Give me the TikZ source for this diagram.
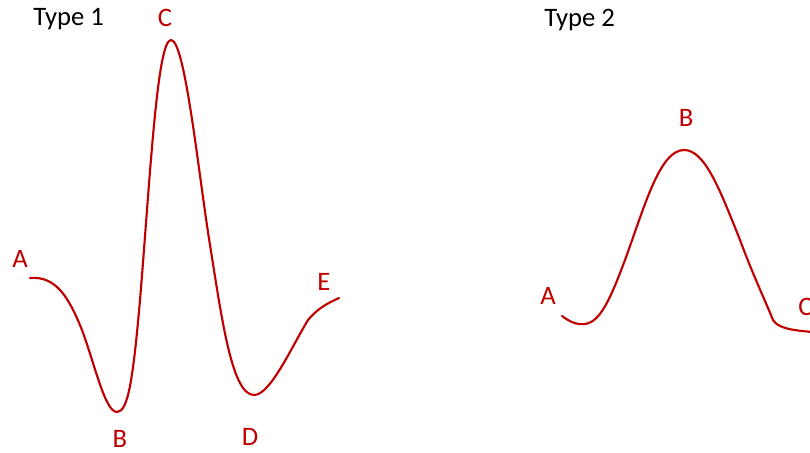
\documentclass[tikz,border=0pt]{standalone}
\usepackage{fontspec}
\setmainfont{Carlito}
\definecolor{wred}{HTML}{C00000}
\begin{document}
\begin{tikzpicture}[x=0.75pt,y=-0.75pt,
  wave/.style={draw=wred,line width=1.6pt,line cap=round,line join=round},
  title/.style={font=\fontsize{20}{24}\selectfont,text=black,inner sep=0pt,anchor=base west},
  lbl/.style={font=\fontsize{20}{24}\selectfont,text=wred,inner sep=0pt,anchor=base}]
\useasboundingbox (0,0) rectangle (810,453);
\clip (0,0) rectangle (810,453);
% Type 1
\node[title] (t1) at (33,26) {Type 1};
\path[wave] (30,278) .. controls (55,276) and (68,295) .. (82,330)
  .. controls (95,365) and (105,412) .. (117,412)
  .. controls (128,412) and (133,380) .. (140,300)
  .. controls (150,180) and (157,40) .. (171,40)
  .. controls (185,40) and (198,170) .. (210,245)
  .. controls (222,320) and (232,395) .. (254,395)
  .. controls (270,395) and (290,350) .. (308,320)
  .. controls (318,308) and (328,303) .. (339,298);
\node[lbl] (a1) at (20,267) {A};
\node[lbl] (b1) at (120,447) {B};
\node[lbl] (c1) at (165,27) {C};
\node[lbl] (d1) at (250,445) {D};
\node[lbl] (e1) at (324,290) {E};
% Type 2
\node[title] (t2) at (544,27) {Type 2};
\path[wave] (562,316) .. controls (570,322) and (577,325) .. (585,324)
  .. controls (600,322) and (610,300) .. (625,260)
  .. controls (645,205) and (660,150) .. (684,150)
  .. controls (705,150) and (720,190) .. (740,240)
  .. controls (755,280) and (765,300) .. (773,320)
  .. controls (778,328) and (790,330) .. (812,332);
\node[lbl] (a2) at (548,304) {A};
\node[lbl] (b2) at (686,127) {B};
\node[lbl,anchor=base west] (c2) at (798,315) {C};
\end{tikzpicture}
\end{document}
